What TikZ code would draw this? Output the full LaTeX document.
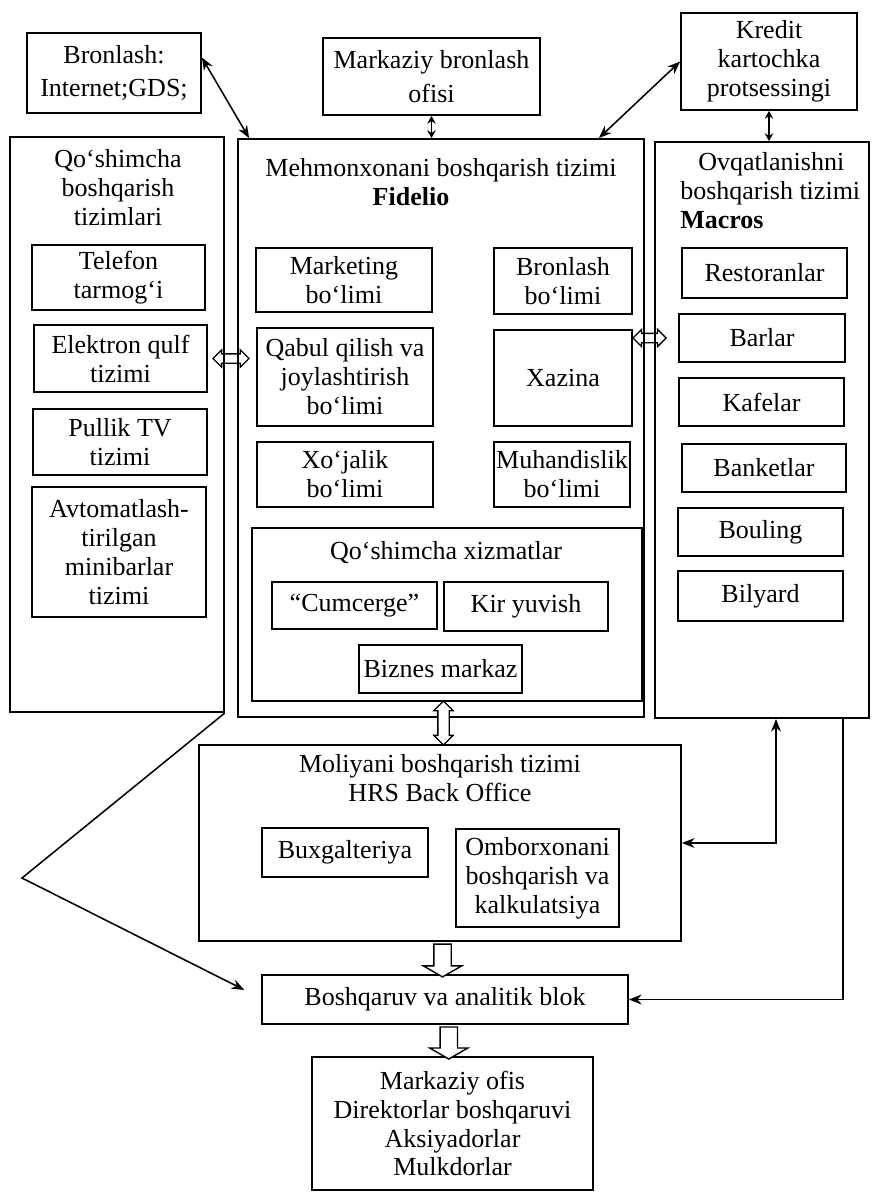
\documentclass[tikz,border=0pt]{standalone}
\usepackage{fontspec}
\setmainfont{Liberation Serif}
\usepackage{tikz}
\usetikzlibrary{arrows.meta,positioning,calc,shapes.arrows}
\newcommand\dfont{\fontsize{18.5}{20.6}\selectfont}
\newcommand\tfont{\fontsize{18.5}{24}\selectfont}
\tikzset{
  BX/.style={rectangle,draw,line width=1.2pt,inner sep=0pt,
             text centered,align=center,font=\dfont},
  TB/.style={BX,font=\tfont},
  TL/.style={inner sep=0pt,align=center,font=\dfont},
  arr/.style={-{Stealth[length=9pt,width=7pt]},line width=1.1pt},
  biarr/.style={{Stealth[length=9pt,width=7pt]}-{Stealth[length=9pt,width=7pt]},line width=1.1pt},
  biarrs/.style={{Stealth[length=5.5pt,width=6pt]}-{Stealth[length=5.5pt,width=6pt]},line width=1.1pt},
  hol/.style={single arrow,draw,line width=1pt,fill=white,inner xsep=0pt,inner ysep=0.2cm,
              minimum width=0pt,single arrow head extend=0.26cm,
              single arrow tip angle=120,minimum height=0.82cm,rotate=-90},
  twin/.style={double arrow,draw,line width=0.9pt,inner xsep=0pt,inner ysep=0.1cm,
               minimum width=0pt,double arrow head extend=0.1cm,
               double arrow tip angle=90,minimum height=0.9cm}
}

\begin{document}
\begin{tikzpicture}[x=0.025cm,y=-0.025cm]
  \useasboundingbox (0,0) rectangle (872,1199);

  % top row
  \node[TB,minimum width=4.35cm,minimum height=2cm] (bron) at (114,73) {Bronlash:\\Internet;GDS;};
  \node[TB,minimum width=5.425cm,minimum height=1.925cm] (mbron) at (431.5,76.5) {Markaziy bronlash\\ofisi};
  \node[BX,minimum width=4.4cm,minimum height=2.425cm] (kred) at (769,61.5) {Kredit\\kartochka\\protsessingi};

  % left column
  \node[BX,minimum width=5.35cm,minimum height=14.375cm] (qsys) at (117,424.5) {};
  \node[TL] (qsyst) at (118,188) {Qo‘shimcha\\boshqarish\\tizimlari};
  \node[BX,minimum width=4.325cm,minimum height=1.625cm] (tel) at (118.5,277.5) {Telefon\\tarmog‘i};
  \node[BX,minimum width=4.325cm,minimum height=1.675cm] (elek) at (120.5,358.5) {Elektron qulf\\tizimi};
  \node[BX,minimum width=4.35cm,minimum height=1.65cm] (tv) at (120,442) {Pullik TV\\tizimi};
  \node[BX,minimum width=4.35cm,minimum height=3.25cm] (mini) at (119,552) {Avtomatlash-\\tirilgan\\minibarlar\\tizimi};

  % Fidelio
  \node[BX,minimum width=10.15cm,minimum height=14.45cm] (fid) at (441,428) {};
  \node[TL] (fidt) at (441,182) {Mehmonxonani boshqarish tizimi\\\textbf{Fidelio}\hspace*{1.5cm}};
  \node[BX,minimum width=4.4cm,minimum height=1.6cm] (mark) at (344,280) {Marketing\\bo‘limi};
  \node[BX,minimum width=3.45cm,minimum height=1.65cm] (bbol) at (563,281) {Bronlash\\bo‘limi};
  \node[BX,minimum width=4.4cm,minimum height=2.45cm] (qab) at (345,377) {Qabul qilish va\\joylashtirish\\bo‘limi};
  \node[BX,minimum width=3.45cm,minimum height=2.4cm] (xaz) at (563,378) {Xazina};
  \node[BX,minimum width=4.4cm,minimum height=1.625cm] (xoj) at (345,474.5) {Xo‘jalik\\bo‘limi};
  \node[BX,minimum width=3.4cm,minimum height=1.625cm] (muh) at (562,474.5) {Muhandislik\\bo‘limi};
  \node[BX,minimum width=9.75cm,minimum height=4.325cm] (xiz) at (447,614.5) {};
  \node[TL] (xizt) at (446,553) {Qo‘shimcha xizmatlar};
  \node[BX,minimum width=4.125cm,minimum height=1.175cm] (cum) at (354.5,605.5) {“Cumcerge”};
  \node[BX,minimum width=4.1cm,minimum height=1.225cm] (kir) at (526,606.5) {Kir yuvish};
  \node[BX,minimum width=4.075cm,minimum height=1.2cm] (biz) at (440.5,669) {Biznes markaz};

  % Macros
  \node[BX,minimum width=5.35cm,minimum height=14.4cm] (ovq) at (762,430) {};
  \node[TL,align=left,anchor=north west] (ovqt) at (680,152) {\hspace*{0.45cm}Ovqatlanishni\\boshqarish tizimi\\\textbf{Macros}};
  \node[BX,minimum width=4.125cm,minimum height=1.25cm] (rest) at (764.5,273) {Restoranlar};
  \node[BX,minimum width=4.15cm,minimum height=1.2cm] (barl) at (762,338) {Barlar};
  \node[BX,minimum width=4.125cm,minimum height=1.2cm] (kaf) at (761.5,402) {Kafelar};
  \node[BX,minimum width=4.1cm,minimum height=1.2cm] (bank) at (764,468) {Banketlar};
  \node[BX,minimum width=4.125cm,minimum height=1.2cm] (boul) at (760.5,532) {Bouling};
  \node[BX,minimum width=4.125cm,minimum height=1.25cm] (bily) at (760.5,596) {Bilyard};

  % back office and below
  \node[BX,minimum width=12.05cm,minimum height=4.9cm] (moli) at (440,843) {};
  \node[TL] (molit) at (440,778) {Moliyani boshqarish tizimi\\HRS Back Office};
  \node[BX,minimum width=4.15cm,minimum height=1.225cm] (bux) at (345,852.5) {Buxgalteriya};
  \node[BX,minimum width=4.075cm,minimum height=2.45cm] (omb) at (537.5,878) {Omborxonani\\boshqarish va\\kalkulatsiya};
  \node[BX,minimum width=9.15cm,minimum height=1.225cm] (anal) at (445,999.5) {Boshqaruv va analitik blok};
  \node[BX,minimum width=7.025cm,minimum height=3.325cm] (mo) at (452.5,1123.5) {Markaziy ofis\\Direktorlar boshqaruvi\\Aksiyadorlar\\Mulkdorlar};

  % connectors
  \draw[biarr] (bron.10) -- ([xshift=0.3cm]fid.north west);
  \draw[biarrs] (mbron.south) -- (mbron.south |- fid.north);
  \draw[biarr] (kred.west) -- ([xshift=-1.15cm]fid.north east);
  \draw[biarrs] (kred.south) -- (kred.south |- ovq.north);
  \draw[biarr] ([xshift=0.35cm]ovq.south) |- (moli.east);
  \draw[arr] ([xshift=2.025cm]ovq.south) |- (anal.east);
  \coordinate (vtip) at (22,878);
  \draw[arr] (qsys.south east) -- (vtip) -- ([xshift=-0.42cm,yshift=0.24cm]anal.west);

  \coordinate (lmid) at ($(qsys.east)!0.5!(fid.west)$);
  \coordinate (rmid) at ($(fid.east)!0.5!(ovq.west)$);
  \node[twin] (lr1) at (lmid |- elek.east) {};
  \node[twin,minimum height=0.83cm] (lr2) at (rmid |- barl.west) {};
  \node[twin,rotate=90,fill=white,minimum height=1.1cm,inner ysep=0.125cm] (ud1) at ($(xiz.south)!0.5!(moli.north)$) {};
  \node[hol] (dn1) at ($(moli.south)!0.5!(anal.north)$) {};
  \node[hol,minimum height=0.8cm] (dn2) at ($(anal.south)!0.5!(mo.north)$) {};
\end{tikzpicture}
\end{document}
